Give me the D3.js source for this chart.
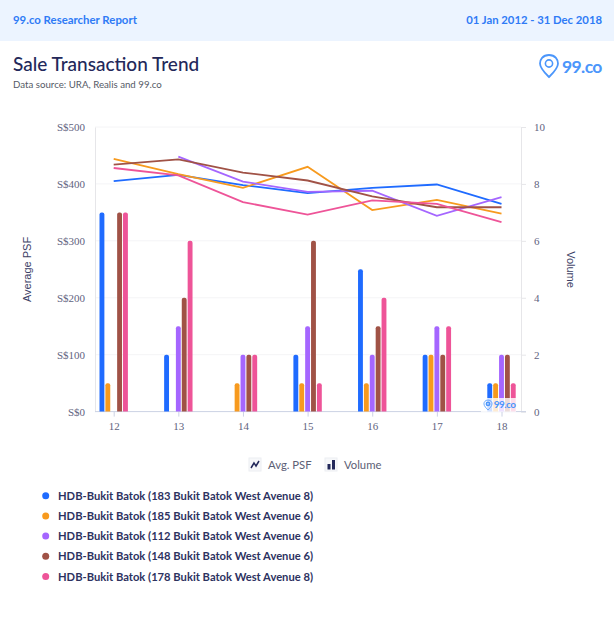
<!DOCTYPE html>
<html>
<head>
<meta charset="utf-8">
<script src="https://cdn.jsdelivr.net/npm/d3@7"></script>
<style>
html, body { margin: 0; padding: 0; background: #fff; }
svg { display: block; }
text { font-family: Lato, "Open Sans", sans-serif; }
.tick text { font-family: "Liberation Serif", serif; font-size: 11px; fill: #5f6380; }
</style>
</head>
<body>
<script>
var width = 614, height = 630;

var years = ["12", "13", "14", "15", "16", "17", "18"];
var names = [
    "HDB-Bukit Batok (183 Bukit Batok West Avenue 8)",
    "HDB-Bukit Batok (185 Bukit Batok West Avenue 6)",
    "HDB-Bukit Batok (112 Bukit Batok West Avenue 6)",
    "HDB-Bukit Batok (148 Bukit Batok West Avenue 6)",
    "HDB-Bukit Batok (178 Bukit Batok West Avenue 8)"
];
var colors = ["#1f6bff", "#f79a1e", "#a566ff", "#a05246", "#ee5498"];

// average psf, one list per block (null = no sale that year)
var psf183 = [405, 416, 398, 384, 393, 399, 365];
var psf185 = [444, 417, 393, 430, 354, 372, 348];
var psf112 = [null, 448, 404, 386, 388, 344, 377];
var psf148 = [434, 443, 420, 406, 378, 359, 359];
var psf178 = [428, 415, 368, 346, 371, 365, 333];
var psfSeries = [psf183, psf185, psf112, psf148, psf178];

// transaction counts
var vol183 = [7, 2, 0, 2, 5, 2, 1];
var vol185 = [1, 0, 1, 1, 1, 2, 1];
var vol112 = [0, 3, 2, 3, 2, 3, 2];
var vol148 = [7, 4, 2, 6, 3, 2, 2];
var vol178 = [7, 6, 2, 1, 4, 3, 1];
var volSeries = [vol183, vol185, vol112, vol148, vol178];

var psfTicks = [0, 100, 200, 300, 400, 500];
var volTicks = [0, 2, 4, 6, 8, 10];

var svg = d3.select("body").append("svg")
    .attr("width", width)
    .attr("height", height);

var plotLeft = 95, plotRight = 521, plotTop = 127, plotBottom = 411.6;

var x = d3.scalePoint().domain(years).range([113.7, 501.5]);
var yPsf = d3.scaleLinear().domain([0, 500]).range([plotBottom, plotTop]);
var yVol = d3.scaleLinear().domain([0, 10]).range([plotBottom, plotTop]);
var slot = d3.scaleBand().domain(d3.range(5)).range([-14.2, 14.2]).paddingInner(0.17);

// header band
svg.append("rect").attr("width", width).attr("height", 41).attr("fill", "#ecf4ff");
svg.append("text").attr("x", 13).attr("y", 24)
    .attr("font-size", 11.4).attr("font-weight", 700).attr("fill", "#2f7bf6")
    .text("99.co Researcher Report");
svg.append("text").attr("x", 602).attr("y", 24).attr("text-anchor", "end")
    .attr("font-size", 11.3).attr("font-weight", 700).attr("fill", "#2f7bf6")
    .text("01 Jan 2012 - 31 Dec 2018");

svg.append("text").attr("x", 13).attr("y", 71)
    .attr("font-size", 19).attr("font-weight", 500).attr("fill", "#23285a")
    .text("Sale Transaction Trend");
svg.append("text").attr("x", 13).attr("y", 88)
    .attr("font-size", 9.7).attr("fill", "#555a66")
    .text("Data source: URA, Realis and 99.co");

// logo
function drawLogo(g, scale, fontSize) {
    g.append("path")
        .attr("d", "M0,-11 C-6.5,-11 -9,-6 -9,-2.5 C-9,2.5 -3,8 0,11 C3,8 9,2.5 9,-2.5 C9,-6 6.5,-11 0,-11 Z")
        .attr("transform", "scale(" + scale + ")")
        .attr("fill", "none").attr("stroke", "#4b96fb").attr("stroke-width", 1.8);
    g.append("circle").attr("cy", -2.5 * scale).attr("r", 3.6 * scale)
        .attr("fill", "none").attr("stroke", "#4b96fb").attr("stroke-width", 1.6);
    g.append("text").attr("x", 13 * scale).attr("y", 6.5 * scale)
        .attr("font-size", fontSize).attr("font-weight", 700)
        .attr("letter-spacing", -0.6).attr("fill", "#4b96fb").text("99.co");
}
drawLogo(svg.append("g").attr("transform", "translate(549,66)"), 1, 17.5);

// gridlines
svg.append("g").selectAll("line").data(psfTicks.slice(1)).enter().append("line")
    .attr("x1", plotLeft).attr("x2", plotRight)
    .attr("y1", function (d) { return yPsf(d); })
    .attr("y2", function (d) { return yPsf(d); })
    .attr("stroke", "#f4f4f6");

// axes
var leftAxis = svg.append("g").attr("transform", "translate(" + plotLeft + ",0)")
    .call(d3.axisLeft(yPsf).tickValues(psfTicks).tickSize(0).tickPadding(10)
        .tickFormat(function (d) { return "S$" + d; }));
leftAxis.select(".domain").attr("stroke", "#e6e6e9").attr("stroke-width", 1);

var rightAxis = svg.append("g").attr("transform", "translate(" + plotRight + ",0)")
    .call(d3.axisRight(yVol).tickValues(volTicks).tickSize(5).tickPadding(8));
rightAxis.select(".domain").attr("stroke", "#e6e6e9");
rightAxis.selectAll(".tick line").attr("stroke", "#e6e6e9");

var bottomAxis = svg.append("g").attr("transform", "translate(0," + plotBottom + ")")
    .call(d3.axisBottom(x).tickSize(5).tickPadding(6));
bottomAxis.select(".domain").attr("d", "M" + plotLeft + ",0H526").attr("stroke", "#ccd2e4");
bottomAxis.selectAll(".tick line").attr("stroke", "#ccd2e4");

svg.append("text").attr("transform", "translate(31,269.5) rotate(-90)")
    .attr("text-anchor", "middle").attr("font-size", 11)
    .style("font-family", "Liberation Sans")
    .attr("fill", "#3c4166").text("Average PSF");
svg.append("text").attr("transform", "translate(567,269.5) rotate(90)")
    .attr("text-anchor", "middle").attr("font-size", 11)
    .style("font-family", "Liberation Sans")
    .attr("fill", "#3c4166").text("Volume");

// bars, rounded on top only
function barPath(cx, w, top, bottom) {
    var r = Math.min(2, bottom - top);
    return "M" + (cx - w / 2) + "," + bottom + "V" + (top + r) +
        "Q" + (cx - w / 2) + "," + top + " " + (cx - w / 2 + r) + "," + top +
        "H" + (cx + w / 2 - r) +
        "Q" + (cx + w / 2) + "," + top + " " + (cx + w / 2) + "," + (top + r) +
        "V" + bottom + "Z";
}
volSeries.forEach(function (values, s) {
    svg.append("g").selectAll("path").data(values).enter().append("path")
        .attr("d", function (d, i) {
            if (d === 0) return null;
            var cx = x(years[i]) + slot(s) + slot.bandwidth() / 2;
            return barPath(cx, slot.bandwidth(), yVol(d), plotBottom);
        })
        .attr("fill", colors[s]);
});

// lines
var line = d3.line()
    .defined(function (d) { return d !== null; })
    .x(function (d, i) { return x(years[i]); })
    .y(function (d) { return yPsf(d); });
psfSeries.forEach(function (values, s) {
    svg.append("path").datum(values)
        .attr("d", line)
        .attr("fill", "none")
        .attr("stroke", colors[s])
        .attr("stroke-width", 1.8);
});

// watermark
svg.append("rect").attr("x", 481).attr("y", 398).attr("width", 35).attr("height", 14)
    .attr("fill", "#fff").attr("fill-opacity", 0.8);
drawLogo(svg.append("g").attr("transform", "translate(488,405)"), 0.45, 10);

// chart type toggles
var toggles = svg.append("g");
toggles.append("rect").attr("x", 249).attr("y", 458).attr("width", 12).attr("height", 13)
    .attr("fill", "#f7f8fa").attr("stroke", "#eceef2");
toggles.append("path").attr("d", "M251,468L254,463L256,466L259,461")
    .attr("fill", "none").attr("stroke", "#23285a").attr("stroke-width", 1.5);
toggles.append("text").attr("x", 268).attr("y", 469).attr("font-size", 11.3).attr("fill", "#5c6075").text("Avg. PSF");
toggles.append("rect").attr("x", 325).attr("y", 458).attr("width", 12).attr("height", 13)
    .attr("fill", "#f7f8fa").attr("stroke", "#eceef2");
toggles.append("rect").attr("x", 327.5).attr("y", 464).attr("width", 3).attr("height", 5.5).attr("fill", "#23285a");
toggles.append("rect").attr("x", 332).attr("y", 460).attr("width", 3).attr("height", 9.5).attr("fill", "#23285a");
toggles.append("text").attr("x", 344).attr("y", 469).attr("font-size", 11.3).attr("fill", "#5c6075").text("Volume");

// legend
var legendY = d3.scalePoint().domain(d3.range(5)).range([495.7, 576.5]);
var legend = svg.append("g").selectAll("g").data(names).enter().append("g")
    .attr("transform", function (d, i) { return "translate(0," + legendY(i) + ")"; });
legend.append("circle").attr("cx", 45.7).attr("r", 3.5)
    .attr("fill", function (d, i) { return colors[i]; });
legend.append("text").attr("x", 58).attr("y", 4)
    .attr("font-size", 11.2).attr("font-weight", 700).attr("fill", "#2d325f")
    .text(function (d) { return d; });
</script>
</body>
</html>
